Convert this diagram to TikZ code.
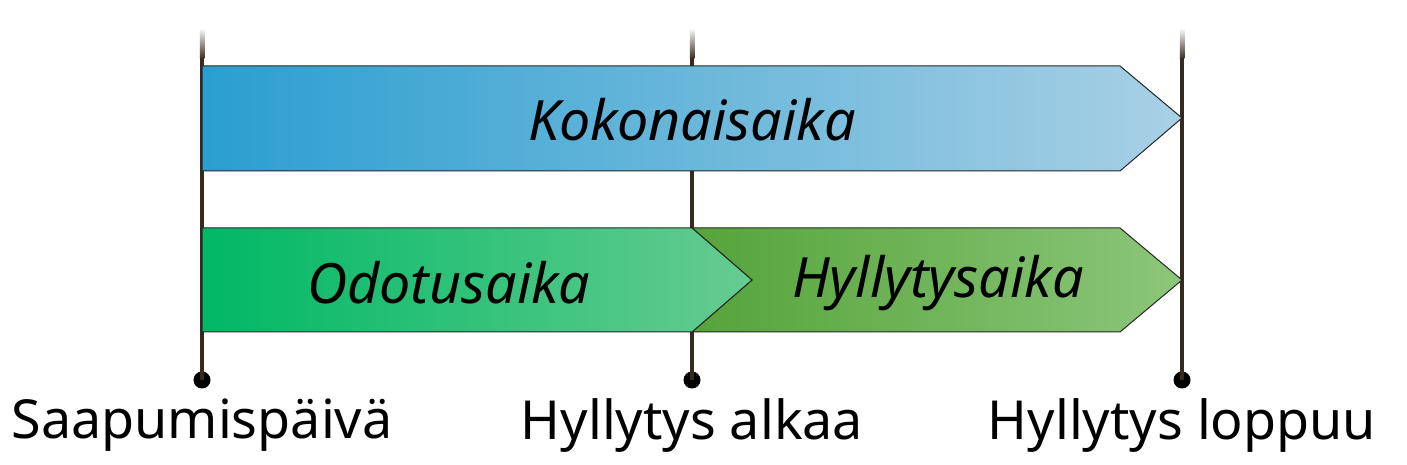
\documentclass[tikz,border=0pt]{standalone}
\usepackage{fontspec}
\setmainfont{Noto Sans}
\usetikzlibrary{positioning, calc}

\definecolor{kokoL}{HTML}{2A9ED0}
\definecolor{kokoR}{HTML}{A9D0E5}
\definecolor{odoL}{HTML}{00B865}
\definecolor{odoR}{HTML}{66CC90}
\definecolor{hylL}{HTML}{55A43A}
\definecolor{hylR}{HTML}{8CC67A}
\definecolor{tickc}{HTML}{362A1E}

\begin{document}
\begin{tikzpicture}[
      x=0.01cm, y=-0.01cm,
      tickline/.style={draw=tickc, line width=0.045cm},
      dot/.style={circle, fill=black, inner sep=0pt, minimum size=0.17cm},
      span/.style={draw=black!85, line width=0.01cm},
      spanlabel/.style={font=\fontsize{15.8}{18}\selectfont\itshape},
      datelabel/.style={font=\fontsize{15.3}{18}\selectfont, inner sep=0pt}
    ]
    \useasboundingbox (0,0) rectangle (1407,465);

    % time marks
    \node[dot] (start) at (202,380) {};
    \node[dot] (shelfstart) at (692,380) {};
    \node[dot] (shelfend) at (1182,380) {};
    \coordinate (starttop) at (202,58);
    \coordinate (shelfstarttop) at (692,58);
    \coordinate (shelfendtop) at (1182,58);

    \foreach \x in {202,692,1182}
      \shade[top color=white, bottom color=tickc] (\x-2.25,28) rectangle (\x+2.25,59);
    \draw[tickline] (starttop) -- (start.center);
    \draw[tickline] (shelfstarttop) -- (shelfstart.center);
    \draw[tickline] (shelfendtop) -- (shelfend.center);

    % spans
    \path[span, left color=kokoL, right color=kokoR]
      (202,66) -- (1120,66) -- (1182,118) -- (1120,171) -- (202,171) -- cycle;
    \path[span, left color=hylL, right color=hylR]
      (692,228) -- (1120,228) -- (1182,280) -- (1120,332) -- (692,332) -- (752,280) -- cycle;
    \path[span, left color=odoL, right color=odoR]
      (202,228) -- (692,228) -- (752,280) -- (692,332) -- (202,332) -- cycle;

    \node[spanlabel] (total) at (692,120) {Kokonaisaika};
    \node[spanlabel] (wait) at (449,283) {Odotusaika};
    \node[spanlabel] (shelf) at (938,283) {Hyllytysaika};

    \node[datelabel, below=0.09cm of start] (startlabel) {Saapumispäivä};
    \node[datelabel, below=0.09cm of shelfstart] (shelfstartlabel) {Hyllytys alkaa};
    \node[datelabel, below=0.09cm of shelfend] (shelfendlabel) {Hyllytys loppuu};
  \end{tikzpicture}
\end{document}
